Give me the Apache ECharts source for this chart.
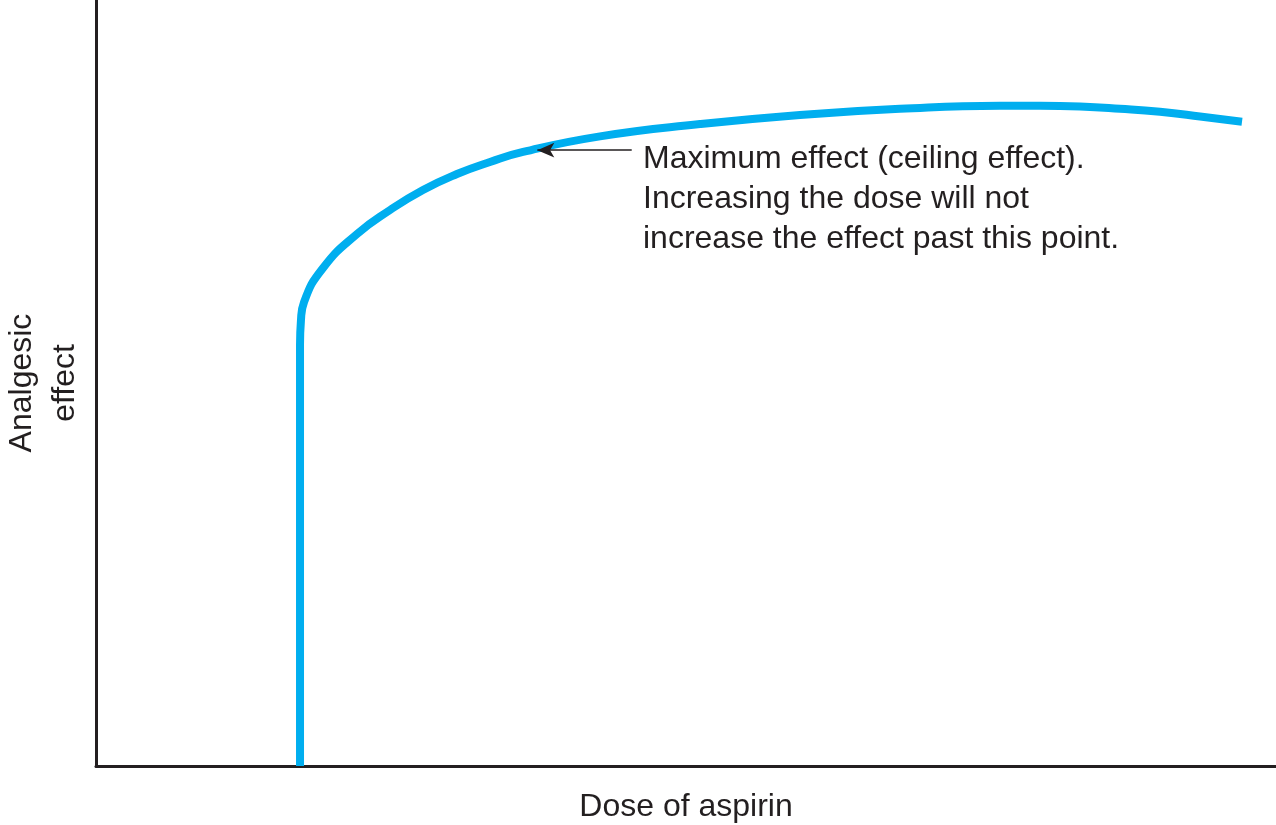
<!DOCTYPE html>
<html><head><meta charset="utf-8">
<script src="https://cdn.jsdelivr.net/npm/echarts@6/dist/echarts.min.js"></script>
<style>html,body{margin:0;padding:0;background:#fff}#c{width:1276px;height:825px}</style>
</head><body><div id="c"></div>
<script>
const doseValues = [17.29, 17.29, 17.29, 17.29, 17.37, 17.63, 19.24, 22.12, 24.92, 27.71, 30.59, 33.39, 36.19, 42.71, 51.19, 59.66, 68.14, 76.61, 80.0, 83.39, 86.78, 90.17, 93.56, 97.12];
const effectValues = [0, 26.9, 47.8, 54.96, 58.22, 60.57, 65.01, 69.45, 72.58, 75.2, 77.28, 78.85, 80.16, 82.2, 83.8, 85.0, 85.8, 86.2, 86.2, 86.1, 85.8, 85.4, 84.8, 84.1];
const arrowFrom = [45.4, 80.4];
const arrowTo = [37.4, 80.4];
const annotationLines = ['Maximum effect (ceiling effect).', 'Increasing the dose will not', 'increase the effect past this point.'];
const xName = 'Dose of aspirin';
const yName = 'Analgesic\neffect';

const font = 'Liberation Sans, Arial, Helvetica, sans-serif';
const ink = '#231f20';
const chart = echarts.init(document.getElementById('c'), null, {renderer: 'canvas'});
chart.setOption({
  animation: false,
  grid: {left: 96, right: 0, top: 0, bottom: 59, containLabel: false, outerBoundsMode: 'none'},
  xAxis: {
    type: 'value', min: 0, max: 100,
    axisLine: {show: true, lineStyle: {color: ink, width: 3}},
    axisTick: {show: false}, axisLabel: {show: false}, splitLine: {show: false},
    name: xName, nameLocation: 'middle', nameGap: 25,
    nameTextStyle: {fontFamily: font, fontSize: 32, color: ink}
  },
  yAxis: {
    type: 'value', min: 0, max: 100,
    axisLine: {show: true, lineStyle: {color: ink, width: 3}},
    axisTick: {show: false}, axisLabel: {show: false}, splitLine: {show: false},
    name: yName, nameLocation: 'middle', nameGap: 9, nameRotate: 90,
    nameTextStyle: {fontFamily: font, fontSize: 32, color: ink, lineHeight: 43}
  },
  series: [{
    type: 'line',
    data: doseValues.map((x, i) => [x, effectValues[i]]),
    smooth: 0.5,
    showSymbol: false,
    lineStyle: {color: '#00aeef', width: 8},
    markLine: {
      silent: true,
      symbol: ['none', 'arrow'],
      symbolSize: [11, 17],
      lineStyle: {color: ink, width: 1.5, type: 'solid'},
      label: {show: false},
      data: [[{coord: arrowFrom}, {coord: arrowTo}]]
    }
  }],
  graphic: [{
    type: 'text', left: 643, top: 139,
    style: {text: annotationLines.join('\n'), font: '32px ' + font, fill: ink, lineHeight: 40}
  }]
});
</script></body></html>
